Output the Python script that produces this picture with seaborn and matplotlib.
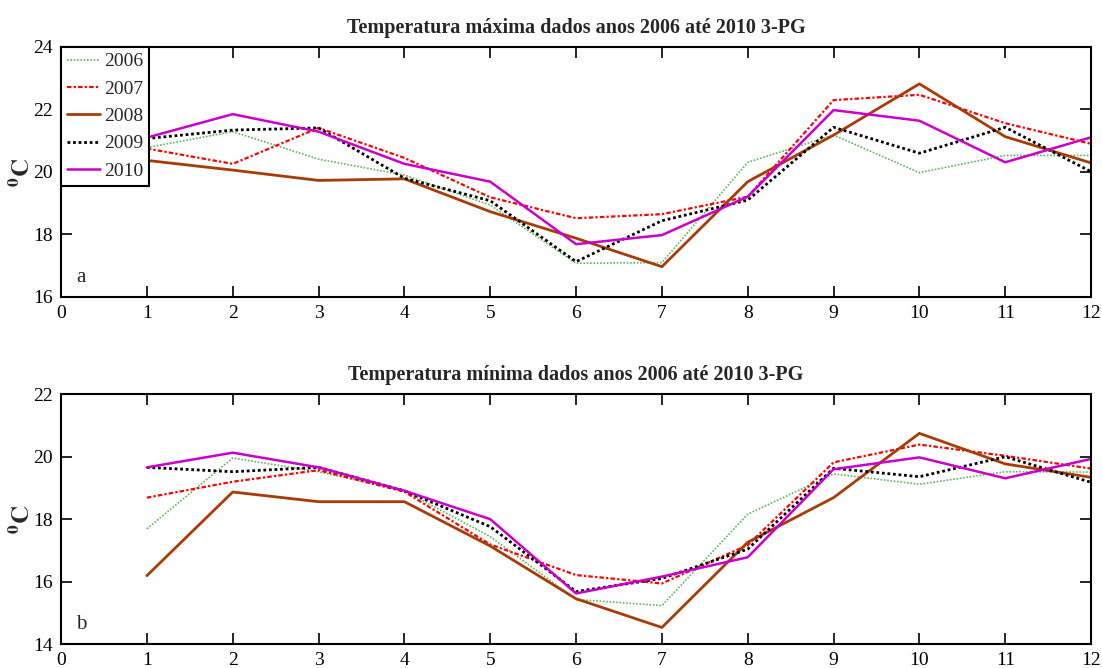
import numpy as np
import pandas as pd
import matplotlib
matplotlib.use("Agg")
import matplotlib.pyplot as plt
import seaborn as sns

months = list(range(1, 13))
years = ["2006", "2007", "2008", "2009", "2010"]

tmax_2006 = [20.78, 21.29, 20.41, 19.90, 18.94, 17.08, 17.10, 20.31, 21.18, 19.98, 20.53, 20.53]
tmax_2007 = [20.75, 20.26, 21.41, 20.45, 19.19, 18.52, 18.65, 19.21, 22.30, 22.47, 21.56, 20.90]
tmax_2008 = [20.37, 20.06, 19.73, 19.78, 18.73, 17.88, 16.97, 19.69, 21.18, 22.82, 21.13, 20.29]
tmax_2009 = [21.07, 21.34, 21.41, 19.80, 19.08, 17.13, 18.44, 19.10, 21.43, 20.60, 21.43, 20.01]
tmax_2010 = [21.10, 21.85, 21.29, 20.26, 19.69, 17.69, 17.98, 19.21, 21.98, 21.64, 20.31, 21.11]

tmin_2006 = [17.69, 19.96, 19.52, 18.91, 17.44, 15.43, 15.23, 18.16, 19.45, 19.12, 19.52, 19.51]
tmin_2007 = [18.69, 19.20, 19.57, 18.88, 17.19, 16.21, 15.94, 17.17, 19.82, 20.39, 20.03, 19.62]
tmin_2008 = [16.19, 18.87, 18.56, 18.56, 17.14, 15.45, 14.53, 17.26, 18.69, 20.75, 19.77, 19.34]
tmin_2009 = [19.66, 19.52, 19.66, 18.91, 17.76, 15.68, 16.10, 17.04, 19.63, 19.36, 20.00, 19.18]
tmin_2010 = [19.66, 20.13, 19.66, 18.91, 18.00, 15.62, 16.16, 16.78, 19.60, 19.98, 19.31, 19.93]

title_max = "Temperatura máxima dados anos 2006 até 2010 3-PG"
title_min = "Temperatura mínima dados anos 2006 até 2010 3-PG"
xticks = list(range(0, 13))

sns.set_style("ticks")
plt.rcParams["font.family"] = ["Liberation Serif", "DejaVu Serif"]
plt.rcParams["mathtext.fontset"] = "stix"

styles = {
    "2006": dict(color="#5cb85c", ls=(0, (1, 1)), lw=1.2),
    "2007": dict(color="#ff0000", ls=(0, (2, 1, 1, 1)), lw=1.6),
    "2008": dict(color="#a83c08", ls="-", lw=2.0),
    "2009": dict(color="#000000", ls=(0, (1, 1)), lw=2.0),
    "2010": dict(color="#cc00cc", ls="-", lw=1.8),
}

fig = plt.figure(figsize=(11.02, 6.68), dpi=100)
ax1 = fig.add_axes([0.0554, 0.5554, 0.9347, 0.3743])
ax2 = fig.add_axes([0.0554, 0.0359, 0.9347, 0.3738])

def draw(ax, series, title, ylim, yticks, letter, legend):
    for yr, vals in zip(years, series):
        st = styles[yr]
        df = pd.DataFrame({"m": months, "v": vals})
        sns.lineplot(data=df, x="m", y="v", ax=ax, color=st["color"],
                     linestyle=st["ls"], linewidth=st["lw"], label=yr,
                     legend=False)
    ax.set_xlim(0, 12)
    ax.set_ylim(*ylim)
    ax.set_xticks(xticks)
    ax.set_yticks(yticks)
    ax.tick_params(direction="in", length=8, width=1.2, top=True, right=True,
                   labelsize=14, colors="black", pad=6)
    for s in ax.spines.values():
        s.set_visible(True)
        s.set_linewidth(1.5)
        s.set_color("black")
    ax.set_xlabel("")
    ax.set_ylabel(r"$\mathbf{^{0}C}$", fontsize=18)
    ax.yaxis.set_label_coords(-0.0255, 0.5)
    ax.set_title(title, fontsize=14.5, fontweight="bold", pad=10)
    ax.text(0.015, 0.04, letter, transform=ax.transAxes, fontsize=15,
            ha="left", va="bottom")
    if legend:
        leg = ax.legend(loc="upper left", fontsize=14, frameon=True,
                        fancybox=False, edgecolor="black", framealpha=1,
                        borderaxespad=0, labelspacing=0.5, handlelength=1.7,
                        handletextpad=0.2, borderpad=0.3)
        leg.get_frame().set_linewidth(1.5)

draw(ax1, [tmax_2006, tmax_2007, tmax_2008, tmax_2009, tmax_2010], title_max,
     (16, 24), [16, 18, 20, 22, 24], "a", True)
draw(ax2, [tmin_2006, tmin_2007, tmin_2008, tmin_2009, tmin_2010], title_min,
     (14, 22), [14, 16, 18, 20, 22], "b", False)

fig.savefig("out.png", dpi=100)
